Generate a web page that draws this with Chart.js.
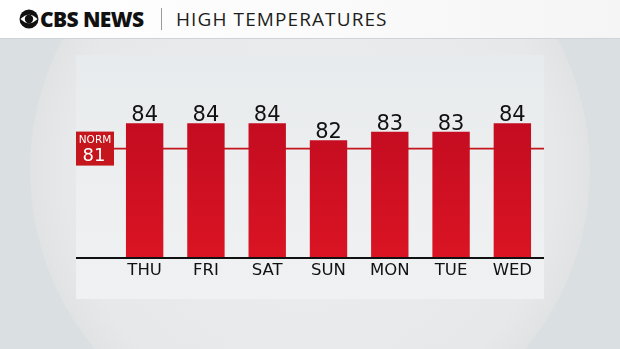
<!DOCTYPE html>
<html>
<head>
<meta charset="utf-8">
<script src="https://cdn.jsdelivr.net/npm/chart.js@4/dist/chart.umd.min.js"></script>
<style>
  html, body { margin: 0; padding: 0; }
  body {
    width: 620px; height: 349px; overflow: hidden; position: relative;
    background: #dadfe1;
    font-family: "Open Sans", sans-serif;
  }
  #lens {
    position: absolute; left: 30px; top: -110px; width: 560px; height: 560px;
    border-radius: 50%;
    background: radial-gradient(circle at 50% 50%, #eceeef 0%, #e6e8e9 62%, #d7d9da 85%, #c4c6c7 96%, #b8babb 100%);
  }
  #header {
    position: absolute; left: 0; top: 0; width: 620px; height: 38px;
    background: linear-gradient(90deg, #ffffff 0%, #fbfbfb 50%, #f5f5f5 100%);
    border-bottom: 1px solid #cfd3d5;
  }
  #logo {
    position: absolute; left: 19px; top: 6px; height: 26px;
    display: flex; align-items: center;
    font-weight: 800; font-size: 21px; letter-spacing: -0.6px; color: #111;
  }
  #logo svg { margin-right: 1px; }
  #divider { position: absolute; left: 161px; top: 8px; width: 1px; height: 22px; background: #9a9a9a; }
  #title {
    position: absolute; left: 176px; top: 6px; line-height: 26px;
    font-size: 19px; letter-spacing: 1.1px; color: #1d1d1d;
  }
  #panel {
    position: absolute; left: 76px; top: 55px; width: 468px; height: 244px;
    background: linear-gradient(180deg, #e8ebed 0%, #edeff0 60%, #f0f1f2 100%);
  }
  #chart { position: absolute; left: 0; top: 0; }
</style>
</head>
<body>
<div id="lens"></div>
<div id="header">
  <div id="logo">
    <svg width="20" height="20" viewBox="0 0 20 20">
      <circle cx="10" cy="10" r="9.5" fill="#111"/>
      <path d="M1.5 10 Q10 1.5 18.5 10 Q10 18.5 1.5 10 Z" fill="#fff"/>
      <circle cx="10" cy="10" r="4.2" fill="#111"/>
    </svg>
    <span>CBS NEWS</span>
  </div>
  <div id="divider"></div>
  <div id="title">HIGH TEMPERATURES</div>
</div>
<div id="panel"><canvas id="chart" width="468" height="244"></canvas></div>

<script>
const DAYS = ['THU', 'FRI', 'SAT', 'SUN', 'MON', 'TUE', 'WED'];
const HIGHS = [84, 84, 84, 82, 83, 83, 84];
const NORMAL = 81;
const Y_MIN = 68;
const Y_MAX = 92;

const RED_TOP = '#b90820';
const RED_BOTTOM = '#da1423';
const NORM_RED = '#c4161c';
const LABEL_FONT = '"DejaVu Sans"';

// bar fill: darker at the top, brighter near the baseline
function barFill(ctx) {
  const area = ctx.chart.chartArea;
  if (!area) return RED_BOTTOM;
  const g = ctx.chart.ctx.createLinearGradient(0, area.top, 0, area.bottom);
  g.addColorStop(0, RED_TOP);
  g.addColorStop(1, RED_BOTTOM);
  return g;
}

const normalLine = {
  id: 'normalLine',
  beforeDatasetsDraw(chart) {
    const { ctx } = chart;
    const y = chart.scales.y.getPixelForValue(NORMAL);
    ctx.save();
    ctx.strokeStyle = NORM_RED;
    ctx.lineWidth = 1.6;
    ctx.beginPath();
    ctx.moveTo(0, y);
    ctx.lineTo(chart.width, y);
    ctx.stroke();
    ctx.restore();
  },
  afterDraw(chart) {
    const { ctx, chartArea } = chart;
    const y = chart.scales.y.getPixelForValue(NORMAL);
    ctx.save();
    // baseline
    ctx.fillStyle = '#111';
    ctx.fillRect(0, chartArea.bottom - 1, chart.width, 2);
    // NORM tag
    ctx.fillStyle = NORM_RED;
    ctx.fillRect(0, y - 17, 38, 34);
    ctx.fillStyle = '#fff';
    ctx.textAlign = 'center';
    ctx.textBaseline = 'middle';
    ctx.font = '10.5px ' + LABEL_FONT;
    ctx.fillText('NORM', 19, y - 8);
    ctx.font = '18px ' + LABEL_FONT;
    ctx.fillText(String(NORMAL), 18, y + 7.5);
    ctx.restore();
  }
};

const valueLabels = {
  id: 'valueLabels',
  afterDatasetsDraw(chart) {
    const { ctx } = chart;
    const meta = chart.getDatasetMeta(0);
    ctx.save();
    ctx.fillStyle = '#111';
    ctx.textAlign = 'center';
    ctx.textBaseline = 'alphabetic';
    ctx.font = '21px ' + LABEL_FONT;
    meta.data.forEach((bar, i) => {
      ctx.fillText(String(HIGHS[i]), bar.x, bar.y - 2);
    });
    ctx.restore();
  }
};

new Chart(document.getElementById('chart'), {
  type: 'bar',
  data: {
    labels: DAYS,
    datasets: [{
      data: HIGHS,
      base: Y_MIN,
      backgroundColor: barFill,
      borderWidth: 0,
      categoryPercentage: 1,
      barPercentage: 0.61,
    }]
  },
  options: {
    responsive: false,
    animation: false,
    layout: { padding: { left: 38, right: 1, top: 1, bottom: 0 } },
    plugins: { legend: { display: false }, tooltip: { enabled: false } },
    scales: {
      x: {
        grid: { display: false, drawTicks: false },
        border: { display: false },
        ticks: { color: '#111', font: { family: 'DejaVu Sans', size: 16.5 }, padding: 3, maxRotation: 0 },
        afterFit: s => { s.height = 41; },
      },
      y: {
        display: false,
        min: Y_MIN,
        max: Y_MAX,
      }
    }
  },
  plugins: [normalLine, valueLabels]
});
</script>
</body>
</html>
